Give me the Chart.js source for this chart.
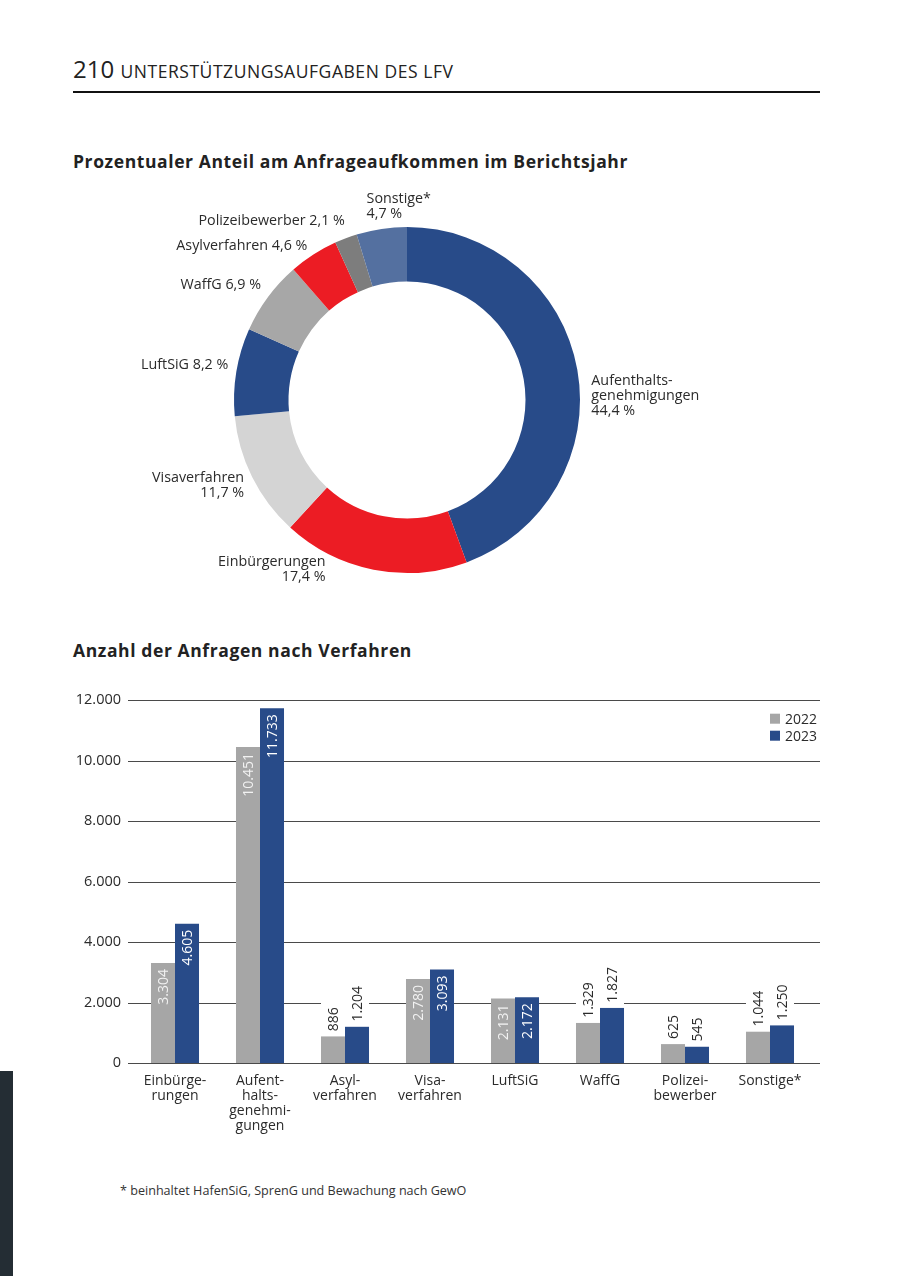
<!DOCTYPE html>
<html>
<head>
<meta charset="utf-8">
<script src="https://cdn.jsdelivr.net/npm/chart.js@4.4.1/dist/chart.umd.min.js"></script>
<style>
  body { margin: 0; width: 900px; height: 1276px; position: relative; background: #fff; overflow: hidden;
         font-family: 'Open Sans', sans-serif; color: #222; }
  .abs { position: absolute; white-space: nowrap; }
  canvas { position: absolute; }
</style>
</head>
<body>
<div class="abs" style="left:73px;top:54px;font-size:24px;line-height:30px;">210 <span style="font-size:17.5px;letter-spacing:0.55px">UNTERSTÜTZUNGSAUFGABEN DES LFV</span></div>
<div class="abs" style="left:73px;top:91px;width:747px;height:2px;background:#111;"></div>

<div class="abs" style="left:73px;top:151px;font-size:17.5px;line-height:20px;font-weight:700;letter-spacing:0.6px;">Prozentualer Anteil am Anfrageaufkommen im Berichtsjahr</div>
<canvas id="pie" width="600" height="440" style="left:107px;top:180px;"></canvas>

<div class="abs" style="left:73px;top:640px;font-size:17.5px;line-height:20px;font-weight:700;letter-spacing:0.6px;">Anzahl der Anfragen nach Verfahren</div>
<canvas id="bars" width="780" height="480" style="left:60px;top:680px;"></canvas>

<div class="abs" style="left:120px;top:1183px;font-size:12.6px;line-height:16px;color:#333;">* beinhaltet HafenSiG, SprenG und Bewachung nach GewO</div>
<div class="abs" style="left:0;top:1071px;width:13px;height:205px;background:#242d34;"></div>

<script>
// share of requests (doughnut), clockwise from 12 o'clock
const shareNames = [['Aufenthalts-', 'genehmigungen'], ['Einbürgerungen'], ['Visaverfahren'], ['LuftSiG'],
                    ['WaffG'], ['Asylverfahren'], ['Polizeibewerber'], ['Sonstige*']];
const shareInline = [false, false, false, true, true, true, true, false];
const shareValues = [44.4, 17.4, 11.7, 8.2, 6.9, 4.6, 2.1, 4.7];
const shareColors = ['#284b89', '#ec1c24', '#d4d4d4', '#284b89', '#a7a7a7', '#ec1c24', '#7d7d7d', '#5470a0'];
// label offset from the slice's outer midpoint: [dx, dy, align]
const shareLabelPos = [[14, 11, 'left'], [-48, -8, 'right'], [-8, 1, 'right'], [-8, -7, 'right'],
                       [-7, -12, 'right'], [-6, -9, 'right'], [-1, -17, 'right'], [-15, -30, 'left']];

// requests per procedure (bars)
const categories = [['Einbürge-', 'rungen'], ['Aufent-', 'halts-', 'genehmi-', 'gungen'], ['Asyl-', 'verfahren'],
                    ['Visa-', 'verfahren'], 'LuftSiG', 'WaffG', ['Polizei-', 'bewerber'], 'Sonstige*'];
const values2022 = [3304, 10451, 886, 2780, 2131, 1329, 625, 1044];
const values2023 = [4605, 11733, 1204, 3093, 2172, 1827, 545, 1250];
const yTicks = [0, 2000, 4000, 6000, 8000, 10000, 12000];
const seriesNames = ['2022', '2023'];
const seriesColors = ['#a6a6a6', '#284b89'];

const FONT = '"Open Sans", sans-serif';
const fmtDE = v => String(v).replace(/\B(?=(\d{3})+(?!\d))/g, '.');
const fmtPct = v => v.toFixed(1).replace('.', ',') + ' %';

const doughnutLabels = {
  id: 'doughnutLabels',
  afterDatasetsDraw(chart) {
    const ctx = chart.ctx;
    const arcs = chart.getDatasetMeta(0).data;
    ctx.save();
    ctx.font = '14.3px ' + FONT;
    ctx.fillStyle = '#2b2b2b';
    ctx.textBaseline = 'middle';
    arcs.forEach((arc, i) => {
      const p = arc.getProps(['x', 'y', 'startAngle', 'endAngle', 'outerRadius'], true);
      const mid = (p.startAngle + p.endAngle) / 2;
      const ax = p.x + Math.cos(mid) * p.outerRadius;
      const ay = p.y + Math.sin(mid) * p.outerRadius;
      const [dx, dy, align] = shareLabelPos[i];
      let lines = shareNames[i].slice();
      if (shareInline[i]) lines[lines.length - 1] += ' ' + fmtPct(shareValues[i]);
      else lines.push(fmtPct(shareValues[i]));
      ctx.textAlign = align;
      lines.forEach((t, j) => ctx.fillText(t, ax + dx, ay + dy + j * 15));
    });
    ctx.restore();
  }
};

new Chart(document.getElementById('pie'), {
  type: 'doughnut',
  data: {
    labels: shareNames.map(n => n.join('')),
    datasets: [{ data: shareValues, backgroundColor: shareColors, borderWidth: 0 }]
  },
  options: {
    responsive: false,
    animation: false,
    cutout: '68.5%',
    layout: { padding: { left: 127, right: 127, top: 47, bottom: 47 } },
    plugins: { legend: { display: false }, tooltip: { enabled: false } }
  },
  plugins: [doughnutLabels]
});

const gridLines = {
  id: 'gridLines',
  beforeDatasetsDraw(chart) {
    const ctx = chart.ctx, a = chart.chartArea, y = chart.scales.y;
    ctx.save();
    ctx.strokeStyle = '#4a4a4a';
    ctx.lineWidth = 1;
    yTicks.forEach(t => {
      const py = Math.round(y.getPixelForValue(t)) + 0.5;
      ctx.beginPath();
      ctx.moveTo(a.left - 4.5, py);
      ctx.lineTo(a.right + 7.5, py);
      ctx.stroke();
    });
    ctx.restore();
  }
};

const valueLabels = {
  id: 'valueLabels',
  afterDatasetsDraw(chart) {
    const ctx = chart.ctx;
    ctx.save();
    ctx.font = '14px ' + FONT;
    ctx.textBaseline = 'middle';
    chart.data.datasets.forEach((ds, di) => {
      chart.getDatasetMeta(di).data.forEach((bar, i) => {
        const v = ds.data[i];
        const txt = fmtDE(v);
        const w = ctx.measureText(txt).width;
        const inside = v >= 2000;
        if (!inside) {
          ctx.fillStyle = '#fff';
          ctx.fillRect(bar.x - bar.width / 2, bar.y - w - 12, bar.width, w + 12);
        }
        ctx.save();
        ctx.translate(bar.x, bar.y);
        ctx.rotate(-Math.PI / 2);
        if (inside) {
          ctx.fillStyle = di === 0 ? '#f2f2f2' : '#ffffff';
          ctx.textAlign = 'right';
          ctx.fillText(txt, -6, 1);
        } else {
          ctx.fillStyle = '#2b2b2b';
          ctx.textAlign = 'left';
          ctx.fillText(txt, 5, 1);
        }
        ctx.restore();
      });
    });
    ctx.restore();
  }
};

const boxLegend = {
  id: 'boxLegend',
  afterDraw(chart) {
    const ctx = chart.ctx, a = chart.chartArea;
    ctx.save();
    ctx.font = '14px ' + FONT;
    ctx.textBaseline = 'middle';
    ctx.textAlign = 'left';
    seriesNames.forEach((n, i) => {
      const cy = a.top + 18.5 + i * 17;
      ctx.fillStyle = seriesColors[i];
      ctx.fillRect(a.right - 42.5, cy - 5, 10, 10);
      ctx.fillStyle = '#2b2b2b';
      ctx.fillText(n, a.right - 27.5, cy + 1);
    });
    ctx.restore();
  }
};

new Chart(document.getElementById('bars'), {
  type: 'bar',
  data: {
    labels: categories,
    datasets: [
      { label: seriesNames[0], data: values2022, backgroundColor: seriesColors[0], categoryPercentage: 0.565, barPercentage: 1 },
      { label: seriesNames[1], data: values2023, backgroundColor: seriesColors[1], categoryPercentage: 0.565, barPercentage: 1 }
    ]
  },
  options: {
    responsive: false,
    animation: false,
    layout: { padding: { top: 19, right: 27.5, left: 0, bottom: 0 } },
    scales: {
      x: {
        offset: true,
        grid: { display: false, drawTicks: false },
        border: { display: false },
        ticks: { color: '#2b2b2b', font: { family: FONT, size: 14, lineHeight: '15px' }, padding: 11, maxRotation: 0, autoSkip: false },
        afterFit(s) { s.height = 97; }
      },
      y: {
        min: 0, max: 12000,
        grid: { display: false, drawTicks: false },
        border: { display: false },
        ticks: { stepSize: 2000, padding: 11.5, color: '#2b2b2b', font: { family: FONT, size: 14.5 }, callback: v => fmtDE(v) },
        afterFit(s) { s.width = 72.5; }
      }
    },
    plugins: { legend: { display: false }, tooltip: { enabled: false } }
  },
  plugins: [gridLines, valueLabels, boxLegend]
});
</script>
</body>
</html>
